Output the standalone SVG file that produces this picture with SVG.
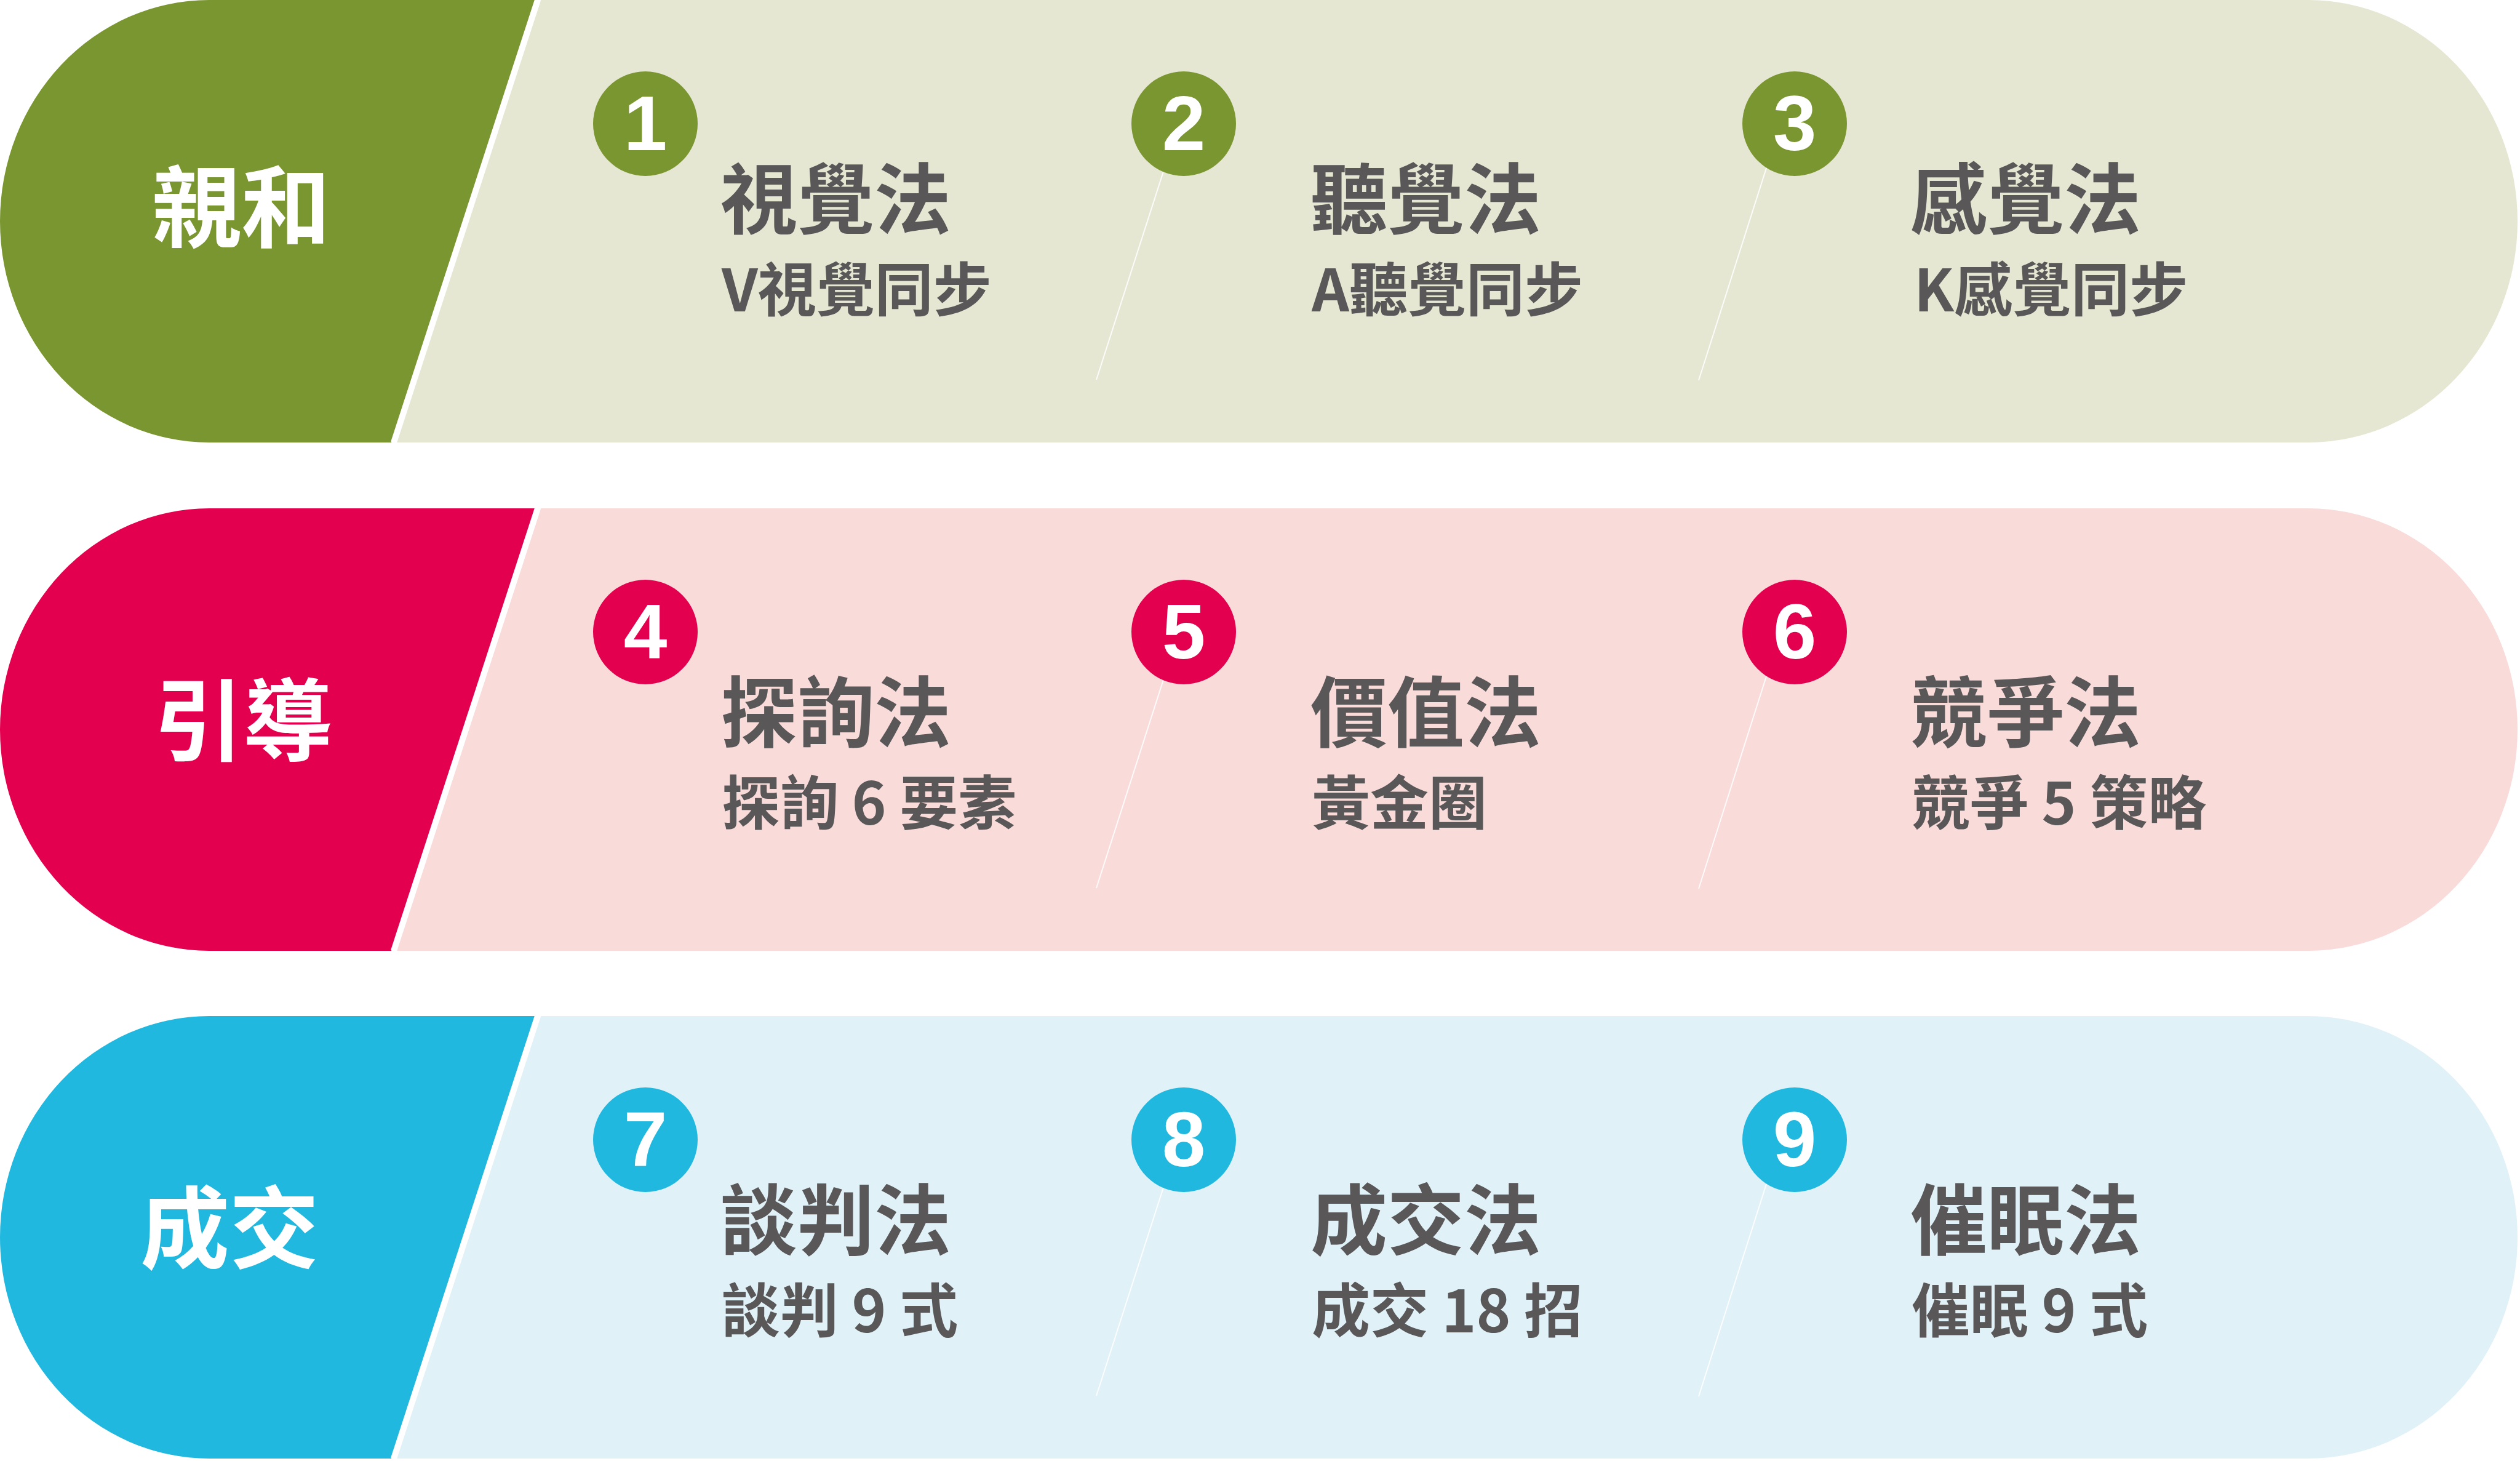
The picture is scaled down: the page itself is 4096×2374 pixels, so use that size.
<svg xmlns="http://www.w3.org/2000/svg" width="4096" height="2374" viewBox="0 0 4096 2374">
<defs>
<style>
.lbl{font-family:"Noto Sans CJK TC","Noto Sans CJK SC",sans-serif;font-weight:700;font-size:145px;fill:#ffffff}
.ttl{font-family:"Noto Sans CJK TC","Noto Sans CJK SC",sans-serif;font-weight:700;font-size:125px;fill:#595757}
.sub{font-family:"Noto Sans CJK TC","Noto Sans CJK SC",sans-serif;font-weight:700;font-size:95px;fill:#595757}
.num{font-family:"Liberation Sans",Arial,sans-serif;font-weight:700;font-size:127px;fill:#ffffff;text-anchor:middle}
.conn{stroke:#ffffff;stroke-width:2;opacity:0.85;fill:none}
.gap{stroke:#ffffff;stroke-width:10}
</style>
<path id="light" d="M 879 0 H 3752 A 340 359.5 0 0 1 4092 359.5 A 340 359.5 0 0 1 3752 719 H 644 Z"/>
<path id="dark" d="M 870 0 H 340 A 340 359.5 0 0 0 0 359.5 A 340 359.5 0 0 0 340 719 H 636 Z"/>
</defs>
<rect width="4096" height="2374" fill="#ffffff"/>

<!-- Row 1 -->
<g id="row1-band">
<use href="#light" fill="#E5E7D3"/>
<use href="#dark" fill="#7A9630"/>
<line class="gap" x1="874" y1="0" x2="640" y2="719"/>
</g>
<g id="connectors-row1">
<line class="conn" x1="1916" y1="201" x2="1782" y2="617"/>
<line class="conn" x1="2894" y1="201" x2="2761" y2="618"/>
</g>
<g id="label-qinhe"><text class="lbl" x="247" y="391">親和</text></g>
<g id="node1">
<circle cx="1049" cy="201" r="85" fill="#7A9630"/>
<text class="num" x="1049" y="244">1</text>
<text class="ttl" x="1171" y="370">視覺法</text>
<text class="sub" x="1173" y="506">V視覺同步</text>
</g>
<g id="node2">
<circle cx="1924" cy="201" r="85" fill="#7A9630"/>
<text class="num" x="1924" y="244">2</text>
<text class="ttl" x="2130" y="370">聽覺法</text>
<text class="sub" x="2132" y="506">A聽覺同步</text>
</g>
<g id="node3">
<circle cx="2917" cy="201" r="85" fill="#7A9630"/>
<text class="num" x="2917" y="244">3</text>
<text class="ttl" x="3105" y="370">感覺法</text>
<text class="sub" x="3111" y="506">K感覺同步</text>
</g>

<!-- Row 2 -->
<g transform="translate(0,826)">
<g id="row2-band">
<use href="#light" fill="#F9DBDA"/>
<use href="#dark" fill="#E3004F"/>
<line class="gap" x1="874" y1="0" x2="640" y2="719"/>
</g>
<g id="connectors-row2">
<line class="conn" x1="1916" y1="201" x2="1782" y2="617"/>
<line class="conn" x1="2894" y1="201" x2="2761" y2="618"/>
</g>
<g id="label-yindao"><text class="lbl" x="250" y="399">引導</text></g>
<g id="node4">
<circle cx="1049" cy="201" r="85" fill="#E3004F"/>
<text class="num" x="1049" y="244">4</text>
<text class="ttl" x="1171" y="378">探詢法</text>
<text class="sub" x="1173" y="514">探詢 6 要素</text>
</g>
<g id="node5">
<circle cx="1924" cy="201" r="85" fill="#E3004F"/>
<text class="num" x="1924" y="244">5</text>
<text class="ttl" x="2130" y="378">價值法</text>
<text class="sub" x="2132" y="514">黃金圈</text>
</g>
<g id="node6">
<circle cx="2917" cy="201" r="85" fill="#E3004F"/>
<text class="num" x="2917" y="244">6</text>
<text class="ttl" x="3105" y="378">競爭法</text>
<text class="sub" x="3107" y="514">競爭 5 策略</text>
</g>
</g>

<!-- Row 3 -->
<g transform="translate(0,1651)">
<g id="row3-band">
<use href="#light" fill="#E0F1F8"/>
<use href="#dark" fill="#20B8DF"/>
<line class="gap" x1="874" y1="0" x2="640" y2="719"/>
</g>
<g id="connectors-row3">
<line class="conn" x1="1916" y1="201" x2="1782" y2="617"/>
<line class="conn" x1="2894" y1="201" x2="2761" y2="618"/>
</g>
<g id="label-chengjiao"><text class="lbl" x="228" y="399">成交</text></g>
<g id="node7">
<circle cx="1049" cy="201" r="85" fill="#20B8DF"/>
<text class="num" x="1049" y="244">7</text>
<text class="ttl" x="1171" y="378">談判法</text>
<text class="sub" x="1173" y="514">談判 9 式</text>
</g>
<g id="node8">
<circle cx="1924" cy="201" r="85" fill="#20B8DF"/>
<text class="num" x="1924" y="244">8</text>
<text class="ttl" x="2130" y="378">成交法</text>
<text class="sub" x="2132" y="514">成交 18 招</text>
</g>
<g id="node9">
<circle cx="2917" cy="201" r="85" fill="#20B8DF"/>
<text class="num" x="2917" y="244">9</text>
<text class="ttl" x="3105" y="378">催眠法</text>
<text class="sub" x="3107" y="514">催眠 9 式</text>
</g>
</g>
</svg>
